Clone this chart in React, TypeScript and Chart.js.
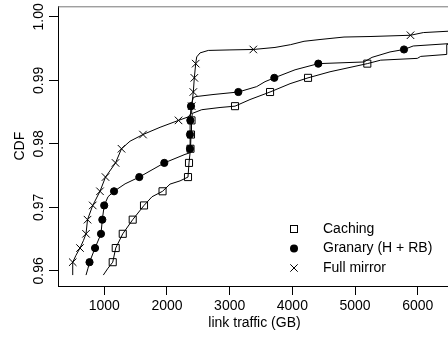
import React, { useEffect, useRef } from 'react';
import { Chart, registerables } from 'chart.js';

Chart.register(...registerables);

// ---- data ----
const SERIES = ['Caching', 'Granary (H + RB)', 'Full mirror'];
const X_TICKS = [1000, 2000, 3000, 4000, 5000, 6000];
const Y_TICKS = [0.96, 0.97, 0.98, 0.99, 1.0];
const X_TITLE = 'link traffic (GB)';
const Y_TITLE = 'CDF';

const X_MIN = 261;
const X_MAX = 6531;
const Y_MIN = 0.957609;
const Y_MAX = 1.001672;

// Caching (line)
const cachingX = [984, 1059, 1134, 1182, 1294, 1453, 1633, 1761, 1929, 2048, 2208, 2335, 2351, 2375, 2383, 2391, 2404, 2554, 2846, 3085, 3324, 3644, 3963, 4250, 4601, 5196, 5410, 5994, 6048, 6463, 6463, 6531];
const cachingY = [0.95933, 0.96042, 0.96136, 0.96359, 0.96583, 0.96806, 0.9703, 0.97167, 0.97253, 0.97366, 0.97417, 0.97477, 0.977, 0.97923, 0.98147, 0.9837, 0.9848, 0.98538, 0.98573, 0.98594, 0.98698, 0.98817, 0.98948, 0.9904, 0.99136, 0.99264, 0.99319, 0.99347, 0.99378, 0.99409, 0.99566, 0.99573];
// Caching (markers)
const cachingMarkX = [1134, 1182, 1294, 1453, 1633, 1929, 2335, 2351, 2375, 2383, 2391, 3085, 3644, 4250, 5196];
const cachingMarkY = [0.96136, 0.96359, 0.96583, 0.96806, 0.9703, 0.97253, 0.97477, 0.977, 0.97923, 0.98147, 0.9837, 0.98594, 0.98817, 0.9904, 0.99264];

// Granary (line)
const granaryX = [708, 740, 764, 852, 947, 968, 998, 1059, 1155, 1331, 1558, 1729, 1957, 2287, 2367, 2367, 2367, 2372, 2383, 2420, 2463, 2734, 3138, 3431, 3564, 3712, 4043, 4414, 5143, 5271, 5558, 5781, 5928, 6531];
const granaryY = [0.95933, 0.96042, 0.96136, 0.96359, 0.96583, 0.96806, 0.9703, 0.97167, 0.97253, 0.9737, 0.97477, 0.97573, 0.977, 0.97834, 0.97859, 0.97923, 0.98147, 0.9837, 0.98594, 0.9873, 0.98745, 0.98777, 0.98817, 0.98902, 0.9898, 0.9904, 0.99167, 0.99264, 0.9929, 0.99363, 0.99448, 0.99487, 0.99542, 0.99581];
// Granary (markers)
const granaryMarkX = [764, 852, 947, 968, 998, 1155, 1558, 1957, 2367, 2367, 2372, 2383, 3138, 3712, 4414, 5781];
const granaryMarkY = [0.96136, 0.96359, 0.96583, 0.96806, 0.9703, 0.97253, 0.97477, 0.977, 0.97923, 0.98147, 0.9837, 0.98594, 0.98817, 0.9904, 0.99264, 0.99487];

// Full mirror (line)
const mirrorX = [496, 496, 548, 612, 668, 708, 732, 815, 931, 1019, 1179, 1274, 1410, 1617, 1889, 2184, 2340, 2383, 2394, 2420, 2436, 2458, 2474, 2527, 2659, 3005, 3377, 3723, 3973, 4186, 4441, 4824, 5239, 5885, 6089, 6531];
const mirrorY = [0.95933, 0.96136, 0.96245, 0.96359, 0.9648, 0.96583, 0.96806, 0.9703, 0.97253, 0.97477, 0.977, 0.97923, 0.98042, 0.98147, 0.98261, 0.9837, 0.98425, 0.9848, 0.98594, 0.98817, 0.9904, 0.99264, 0.9937, 0.99433, 0.99472, 0.9948, 0.99487, 0.99519, 0.99563, 0.99616, 0.99644, 0.99683, 0.99691, 0.99711, 0.99753, 0.99777];
// Full mirror (markers)
const mirrorMarkX = [496, 612, 708, 732, 815, 931, 1019, 1179, 1274, 1617, 2184, 2394, 2420, 2436, 2458, 3377, 5885];
const mirrorMarkY = [0.96136, 0.96359, 0.96583, 0.96806, 0.9703, 0.97253, 0.97477, 0.977, 0.97923, 0.98147, 0.9837, 0.98594, 0.98817, 0.9904, 0.99264, 0.99487, 0.99711];

const FONT = '"Liberation Sans", Arial, Helvetica, sans-serif';

const pts = (xs: number[], ys: number[]) => xs.map((x, i) => ({ x, y: ys[i] }));

const lineDs = (label: string, xs: number[], ys: number[]) => ({
  label,
  data: pts(xs, ys),
  showLine: true,
  borderColor: '#000',
  borderWidth: 1,
  pointRadius: 0,
  tension: 0,
  order: 3,
});

const framePlugin = {
  id: 'frameAndLegend',
  afterDraw(chart: any) {
    const { ctx, chartArea: a } = chart;
    ctx.save();
    // top border of the box
    ctx.strokeStyle = '#777';
    ctx.lineWidth = 1;
    ctx.beginPath();
    ctx.moveTo(a.left, a.top + 0.5);
    ctx.lineTo(a.right, a.top + 0.5);
    ctx.stroke();
    ctx.beginPath();
    ctx.moveTo(a.right - 0.5, a.top);
    ctx.lineTo(a.right - 0.5, a.bottom);
    ctx.strokeStyle = '#000';
    ctx.stroke();

    // legend
    const sx = 294;
    const tx = 323;
    const rows = [229, 248.5, 268];
    ctx.fillStyle = '#000';
    ctx.strokeStyle = '#000';
    ctx.lineWidth = 1;
    // square
    ctx.strokeRect(sx - 3.5, rows[0] - 3.5, 7, 7);
    // filled circle
    ctx.beginPath();
    ctx.arc(sx, rows[1], 4, 0, Math.PI * 2);
    ctx.fill();
    // cross
    ctx.beginPath();
    ctx.moveTo(sx - 3.7, rows[2] - 3.7);
    ctx.lineTo(sx + 3.7, rows[2] + 3.7);
    ctx.moveTo(sx - 3.7, rows[2] + 3.7);
    ctx.lineTo(sx + 3.7, rows[2] - 3.7);
    ctx.stroke();

    ctx.font = `14px ${FONT}`;
    ctx.textAlign = 'left';
    ctx.textBaseline = 'middle';
    SERIES.forEach((s, i) => ctx.fillText(s, tx, rows[i]));
    ctx.restore();
  },
};

export default function App() {
  const ref = useRef<HTMLCanvasElement>(null);

  useEffect(() => {
    if (!ref.current) return;
    const chart = new Chart(ref.current, {
      type: 'scatter',
      data: {
        datasets: [
          {
            label: SERIES[2] + ' markers',
            data: pts(mirrorMarkX, mirrorMarkY),
            showLine: false,
            pointStyle: 'crossRot',
            pointRadius: 5.3,
            pointBorderWidth: 1,
            pointBorderColor: '#000',
            pointBackgroundColor: '#000',
            order: 0,
          },
          {
            label: SERIES[1] + ' markers',
            data: pts(granaryMarkX, granaryMarkY),
            showLine: false,
            pointStyle: 'circle',
            pointRadius: 3.6,
            pointBorderWidth: 1,
            pointBorderColor: '#000',
            pointBackgroundColor: '#000',
            order: 1,
          },
          {
            label: SERIES[0] + ' markers',
            data: pts(cachingMarkX, cachingMarkY),
            showLine: false,
            pointStyle: 'rect',
            pointRadius: 5,
            pointBorderWidth: 1,
            pointBorderColor: '#000',
            pointBackgroundColor: 'rgba(0,0,0,0)',
            order: 2,
          },
          lineDs(SERIES[0], cachingX, cachingY),
          lineDs(SERIES[1], granaryX, granaryY),
          lineDs(SERIES[2], mirrorX, mirrorY),
        ] as any,
      },
      options: {
        responsive: false,
        maintainAspectRatio: false,
        devicePixelRatio: 1,
        animation: false,
        events: [],
        layout: { padding: { left: 0, top: 4, right: 7, bottom: 0 } },
        plugins: {
          legend: { display: false },
          tooltip: { enabled: false },
        },
        scales: {
          x: {
            type: 'linear',
            position: 'bottom',
            min: X_MIN,
            max: X_MAX,
            afterFit: (s: any) => {
              s.height = 52;
              s.paddingLeft = 0;
              s.paddingRight = 0;
            },
            afterBuildTicks: (s: any) => {
              s.ticks = X_TICKS.map((v) => ({ value: v }));
            },
            ticks: {
              stepSize: 1000,
              includeBounds: false,
              minRotation: 0,
              maxRotation: 0,
              autoSkip: false,
              padding: 2.6,
              color: '#000',
              font: { family: FONT, size: 14 },
              callback: (v: any) => String(v),
            },
            grid: {
              drawOnChartArea: false,
              drawTicks: true,
              tickLength: 9,
              color: '#000',
              lineWidth: 1,
            },
            border: { display: true, color: '#000', width: 1 },
            title: {
              display: true,
              text: X_TITLE,
              color: '#000',
              font: { family: FONT, size: 14 },
              padding: { top: 0, bottom: 6.5 },
            },
          },
          y: {
            type: 'linear',
            position: 'left',
            min: Y_MIN,
            max: Y_MAX,
            afterFit: (s: any) => {
              s.width = 58;
              s.paddingTop = 0;
              s.paddingBottom = 0;
            },
            afterBuildTicks: (s: any) => {
              s.ticks = Y_TICKS.map((v) => ({ value: v }));
            },
            ticks: {
              stepSize: 0.01,
              includeBounds: false,
              minRotation: 90,
              maxRotation: 90,
              autoSkip: false,
              crossAlign: 'center',
              padding: -3.6,
              color: '#000',
              font: { family: FONT, size: 14 },
              callback: (v: any) => Number(v).toFixed(2),
            },
            grid: {
              drawOnChartArea: false,
              drawTicks: true,
              tickLength: 9,
              color: '#000',
              lineWidth: 1,
            },
            border: { display: true, color: '#000', width: 1 },
            title: {
              display: true,
              text: Y_TITLE,
              color: '#000',
              font: { family: FONT, size: 14 },
              padding: { top: 11.6, bottom: 0 },
            },
          },
        },
      } as any,
      plugins: [framePlugin],
    });
    return () => chart.destroy();
  }, []);

  return (
    <div
      style={{
        position: 'fixed',
        left: 0,
        top: 0,
        width: 448,
        height: 338,
        overflow: 'hidden',
        background: '#fff',
      }}
    >
      <canvas ref={ref} width={458} height={338} style={{ display: 'block', width: 458, height: 338 }} />
    </div>
  );
}
